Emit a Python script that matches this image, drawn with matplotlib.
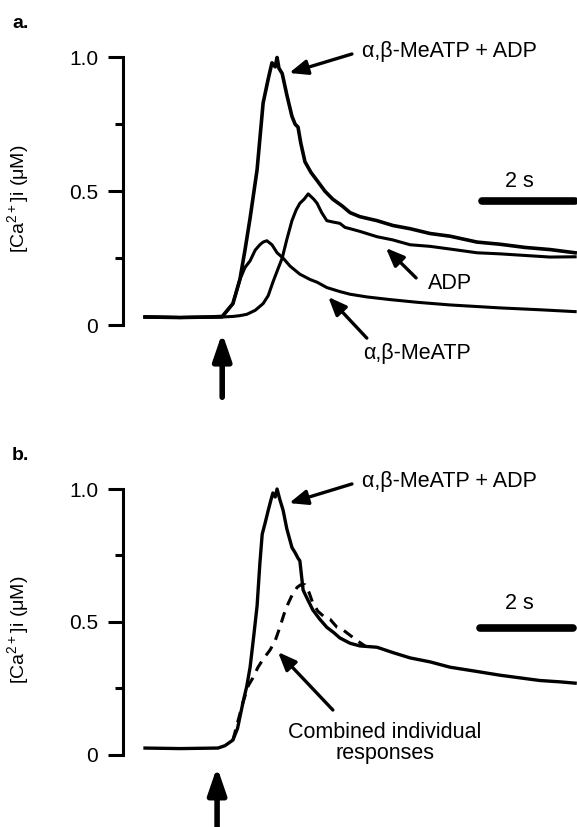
import matplotlib
matplotlib.use("Agg")
import matplotlib.pyplot as plt

plt.rcParams['font.family'] = ['Liberation Sans', 'DejaVu Sans']
plt.rcParams['mathtext.fontset'] = 'custom'
plt.rcParams['mathtext.rm'] = 'Liberation Sans'

# ---- panel a : traces (time in s, [Ca2+]i in uM) ----
t_comb_a = [0.00, 0.75, 1.40, 1.66, 1.89, 2.04, 2.15, 2.26, 2.41, 2.54, 2.65, 2.73, 2.80,
            2.84, 2.88, 2.95, 3.05, 3.16, 3.23, 3.29, 3.35, 3.44, 3.57, 3.70, 3.87, 4.04,
            4.24, 4.41, 4.62, 4.99, 5.33, 5.70, 6.13, 6.56, 7.14, 7.63, 8.17, 8.71, 9.25]
v_comb_a = [0.030, 0.028, 0.030, 0.032, 0.080, 0.170, 0.280, 0.400, 0.580, 0.830, 0.920, 0.980, 0.965,
            1.000, 0.960, 0.940, 0.860, 0.780, 0.750, 0.740, 0.680, 0.610, 0.570, 0.540, 0.500, 0.470,
            0.445, 0.420, 0.405, 0.390, 0.372, 0.360, 0.342, 0.332, 0.310, 0.302, 0.290, 0.282, 0.270]

t_adp_a = [0.00, 0.75, 1.66, 1.89, 2.04, 2.19, 2.37, 2.54, 2.65, 2.75, 2.86, 2.95, 3.05,
           3.16, 3.25, 3.33, 3.42, 3.51, 3.57, 3.63, 3.70, 3.80, 3.91, 4.04, 4.19, 4.30,
           4.41, 4.62, 4.99, 5.33, 5.70, 6.13, 6.56, 7.14, 7.63, 8.17, 8.71, 9.25]
v_adp_a = [0.030, 0.028, 0.030, 0.032, 0.035, 0.040, 0.055, 0.080, 0.110, 0.160, 0.210, 0.250, 0.320,
           0.390, 0.430, 0.455, 0.470, 0.490, 0.480, 0.470, 0.455, 0.420, 0.390, 0.385, 0.380, 0.365,
           0.360, 0.350, 0.330, 0.318, 0.300, 0.294, 0.284, 0.270, 0.266, 0.260, 0.254, 0.255]

t_meatp_a = [0.00, 0.75, 1.66, 1.89, 2.04, 2.15, 2.26, 2.37, 2.47, 2.54, 2.62, 2.73, 2.84,
             2.97, 3.12, 3.33, 3.55, 3.70, 3.91, 4.19, 4.41, 4.77, 5.27, 5.85, 6.56, 7.63, 8.49, 9.25]
v_meatp_a = [0.030, 0.028, 0.030, 0.080, 0.170, 0.215, 0.240, 0.280, 0.300, 0.310, 0.315, 0.300, 0.270,
             0.250, 0.220, 0.190, 0.170, 0.160, 0.140, 0.125, 0.115, 0.105, 0.095, 0.085, 0.075, 0.064, 0.057, 0.050]

# ---- panel b : combined response and sum of individual responses ----
t_comb_b = [0.00, 0.75, 1.57, 1.72, 1.89, 1.99, 2.11, 2.19, 2.26, 2.34, 2.41, 2.47, 2.52, 2.58,
            2.65, 2.71, 2.75, 2.80, 2.84, 2.90, 2.97, 3.05, 3.16, 3.23, 3.29, 3.33, 3.40, 3.51,
            3.61, 3.76, 3.91, 4.06, 4.19, 4.41, 4.62, 4.99, 5.33, 5.70, 6.13, 6.56, 7.10, 7.63,
            8.06, 8.49, 8.92, 9.25]
v_comb_b = [0.026, 0.024, 0.026, 0.035, 0.056, 0.100, 0.200, 0.260, 0.330, 0.450, 0.560, 0.720, 0.830, 0.870,
            0.920, 0.960, 0.985, 0.970, 1.000, 0.960, 0.920, 0.850, 0.780, 0.760, 0.740, 0.730, 0.620, 0.580,
            0.545, 0.510, 0.480, 0.460, 0.440, 0.420, 0.410, 0.405, 0.385, 0.365, 0.350, 0.330, 0.315, 0.300,
            0.290, 0.280, 0.275, 0.270]

t_sum_b = [1.89, 2.11, 2.22, 2.32, 2.43, 2.54, 2.69, 2.80, 2.90, 2.99, 3.08, 3.16, 3.27, 3.35,
           3.44, 3.53, 3.61, 3.72, 3.85, 3.98, 4.13, 4.26, 4.41, 4.56, 4.73]
v_sum_b = [0.056, 0.200, 0.260, 0.290, 0.330, 0.360, 0.395, 0.430, 0.480, 0.530, 0.570, 0.600, 0.630, 0.640,
           0.640, 0.610, 0.570, 0.540, 0.520, 0.510, 0.480, 0.470, 0.450, 0.430, 0.410]

stim_a = 1.66
stim_b = 1.55
scale_len = 2.0
ticks_major = [0, 0.5, 1.0]
ticks_minor = [0.25, 0.75]
tick_labels = ['0', '0.5', '1.0']
ylabel = r'[Ca$^{2+}$]i (μM)'

fig = plt.figure(figsize=(5.77, 8.27), dpi=100)
ax_a = fig.add_axes([0.2132, 0.607, 0.7868, 0.3235])
ax_b = fig.add_axes([0.2132, 0.0871, 0.7868, 0.3216])


def style_axis(ax):
    ax.set_xlim(-0.473, 9.29)
    ax.set_ylim(0, 1.0)
    for s in ['top', 'right', 'bottom']:
        ax.spines[s].set_visible(False)
    ax.spines['left'].set_linewidth(2.2)
    ax.set_xticks([])
    ax.set_yticks(ticks_major)
    ax.set_yticklabels(tick_labels)
    ax.set_yticks(ticks_minor, minor=True)
    ax.tick_params(axis='y', which='major', length=11, width=2.2, pad=7, labelsize=15)
    ax.tick_params(axis='y', which='minor', length=5.5, width=2.2)
    ax.set_ylabel(ylabel, fontsize=14)
    ax.yaxis.set_label_coords(-0.2, 0.47)
    ax.patch.set_visible(False)


def arrow(ax, txt, tip, tail, textpos=None, **kw):
    ax.annotate('', xy=tip, xytext=tail, annotation_clip=False,
                arrowprops=dict(arrowstyle='-|>,head_length=1.1,head_width=0.45',
                                color='k', lw=2.4, shrinkA=0, shrinkB=0))
    if textpos is not None:
        ax.text(textpos[0], textpos[1], txt, ha='center', va='center',
                fontsize=15.5, clip_on=False, **kw)


def stim_arrow(ax, t, tip, tail):
    ax.annotate('', xy=(t, tip), xytext=(t, tail), annotation_clip=False,
                arrowprops=dict(arrowstyle='-|>,head_length=1.6,head_width=0.55',
                                color='k', lw=4, shrinkA=0, shrinkB=0))


# panel a
style_axis(ax_a)
ax_a.plot(t_comb_a, v_comb_a, color='k', lw=2.6, clip_on=False, solid_joinstyle='round')
ax_a.plot(t_adp_a, v_adp_a, color='k', lw=2.2, clip_on=False, solid_joinstyle='round')
ax_a.plot(t_meatp_a, v_meatp_a, color='k', lw=2.2, clip_on=False, solid_joinstyle='round')
arrow(ax_a, 'α,β-MeATP + ADP', (3.10, 0.942), (4.45, 1.013), (6.54, 1.024))
arrow(ax_a, 'ADP', (5.18, 0.288), (5.83, 0.176), (6.56, 0.157))
arrow(ax_a, 'α,β-MeATP', (3.94, 0.105), (4.77, -0.049), (5.85, -0.105))
ax_a.plot([7.25, 7.25 + scale_len], [0.464, 0.464], color='k', lw=5.5,
          solid_capstyle='round', clip_on=False)
ax_a.text(8.06, 0.538, '2 s', ha='center', va='center', fontsize=15.5)
stim_arrow(ax_a, stim_a, -0.03, -0.27)

# panel b
style_axis(ax_b)
ax_b.plot(t_comb_b, v_comb_b, color='k', lw=2.4, clip_on=False, solid_joinstyle='round')
ax_b.plot(t_sum_b, v_sum_b, color='k', lw=2.2, ls=(0, (3.5, 2.5)), clip_on=False)
arrow(ax_b, 'α,β-MeATP + ADP', (3.10, 0.947), (4.45, 1.019), (6.54, 1.03))
arrow(ax_b, 'Combined individual\nresponses', (2.86, 0.387), (4.04, 0.169), (5.16, 0.045),
      linespacing=1.05)
ax_b.plot([7.2, 7.2 + scale_len], [0.477, 0.477], color='k', lw=5.5,
          solid_capstyle='round', clip_on=False)
ax_b.text(8.06, 0.568, '2 s', ha='center', va='center', fontsize=15.5)
stim_arrow(ax_b, stim_b, -0.045, -0.30)

fig.text(12 / 577, 1 - 23 / 827, 'a.', fontsize=14, fontweight='bold', va='center')
fig.text(12 / 577, 1 - 455 / 827, 'b.', fontsize=14, fontweight='bold', va='center')

fig.savefig('out.png', dpi=100)
